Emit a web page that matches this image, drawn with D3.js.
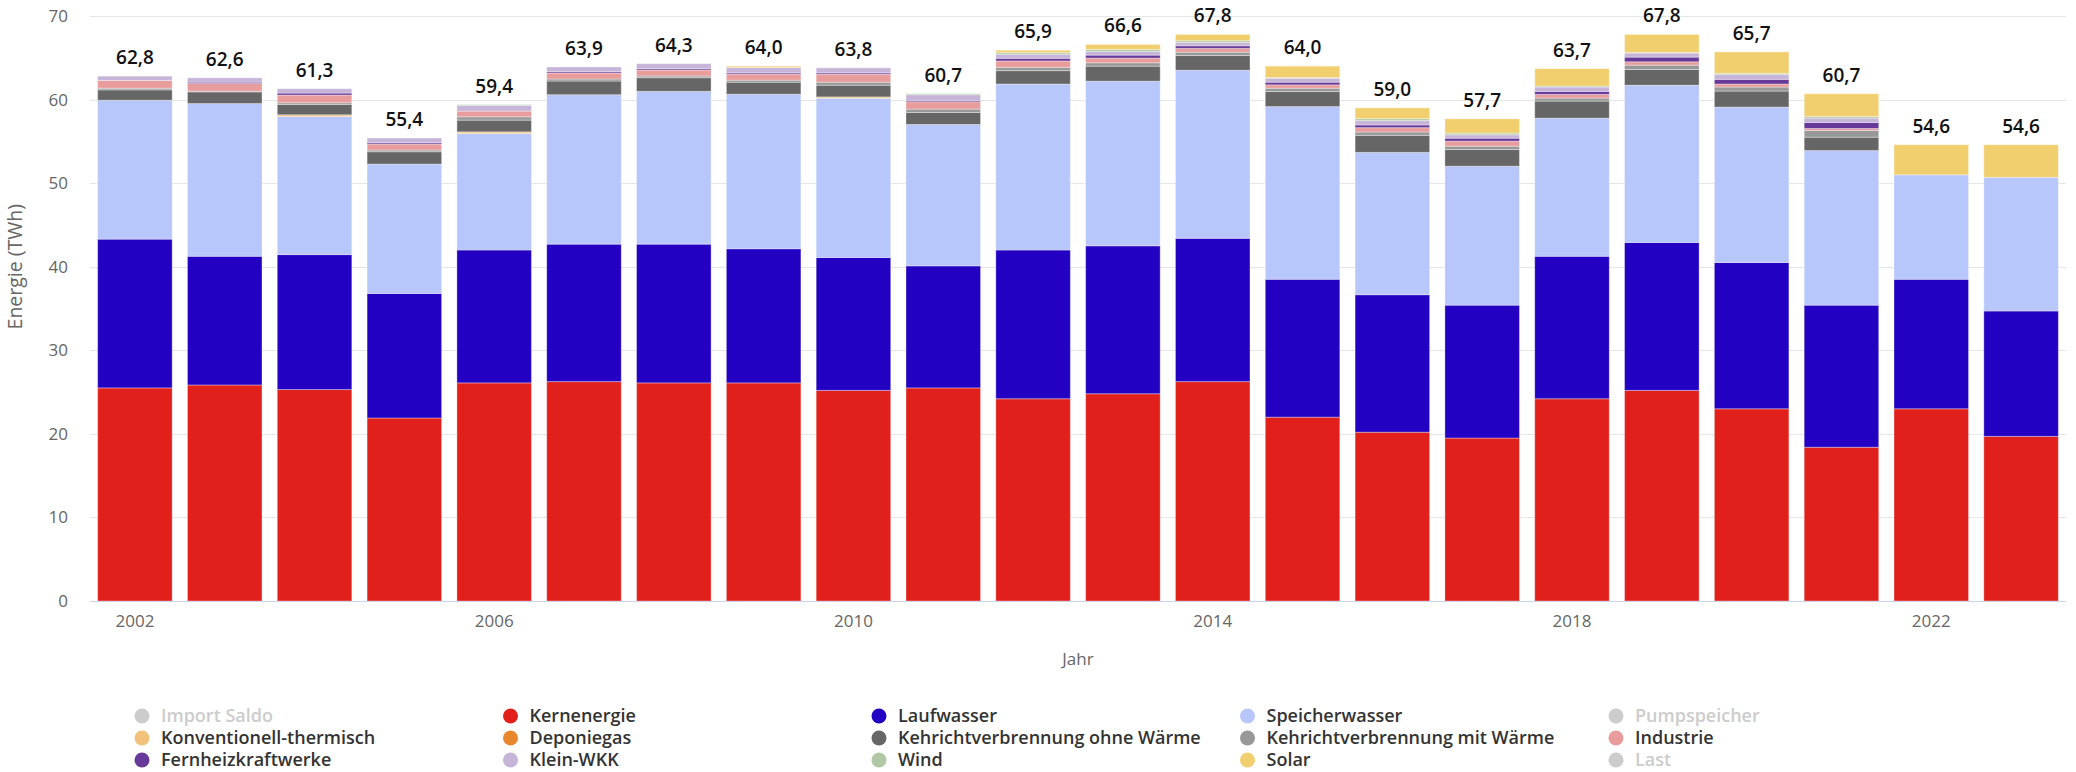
<!DOCTYPE html>
<html><head><meta charset="utf-8">
<script src="https://cdn.jsdelivr.net/npm/d3@7"></script>
<style>body{margin:0;background:#fff}svg{display:block}</style>
</head><body>
<svg id="chart" width="2076" height="772"></svg>
<script>
// ---------- data ----------
const years = [2002,2003,2004,2005,2006,2007,2008,2009,2010,2011,2012,2013,2014,2015,2016,2017,2018,2019,2020,2021,2022,2023];
const kernenergie    = [25.5,25.85,25.3,21.9,26.1,26.25,26.1,26.1,25.2,25.5,24.2,24.8,26.25,22.0,20.2,19.5,24.2,25.2,23.0,18.4,23.0,19.7];
const laufwasser     = [17.8,15.4,16.15,14.9,15.9,16.45,16.6,16.05,15.9,14.6,17.8,17.7,17.15,16.5,16.45,15.9,17.05,17.7,17.5,17.0,15.5,15.0];
const speicherwasser = [16.62,18.27,16.53,15.48,13.94,17.88,18.28,18.49,19.06,16.92,19.86,19.7,20.11,20.66,17.03,16.62,16.53,18.82,18.6,18.5,12.5,16.0];
const konventionell  = [0,0,0.2,0,0.2,0,0,0,0.16,0,0,0,0,0,0,0,0,0,0,0,0,0];
const deponiegas     = [0,0,0,0,0,0,0,0,0,0,0,0,0,0,0,0,0,0,0,0,0,0];
const kvaOhneWaerme  = [1.24,1.4,1.24,1.48,1.4,1.64,1.64,1.44,1.4,1.44,1.6,1.8,1.76,1.8,2.04,2.0,2.04,1.88,1.92,1.6,0,0];
const kvaMitWaerme   = [0.2,0.08,0.2,0.2,0.4,0.24,0.2,0.24,0.36,0.4,0.4,0.4,0.4,0.4,0.4,0.4,0.36,0.52,0.48,0.8,0,0];
const industrie      = [0.92,0.92,0.92,0.72,0.68,0.72,0.72,0.72,0.96,0.88,0.76,0.56,0.45,0.4,0.52,0.6,0.44,0.4,0.36,0.24,0,0];
const fernheiz       = [0,0.16,0.24,0.16,0,0.16,0.16,0.16,0.16,0.16,0.32,0.36,0.32,0.32,0.32,0.36,0.36,0.56,0.56,0.72,0,0];
const kleinWKK       = [0.52,0.52,0.52,0.56,0.68,0.56,0.6,0.64,0.6,0.68,0.48,0.44,0.4,0.46,0.52,0.4,0.52,0.48,0.56,0.52,0,0];
const wind           = [0,0,0,0,0.1,0,0,0,0,0.12,0.2,0.24,0.2,0.1,0.24,0.2,0.12,0.08,0.16,0.2,0,0];
const solar          = [0,0,0,0,0,0,0,0.16,0,0,0.28,0.6,0.76,1.36,1.28,1.72,2.08,2.16,2.56,2.72,3.6,3.9];

const yTicks = [0,10,20,30,40,50,60,70];
const xTickYears = [2002,2006,2010,2014,2018,2022];

// stacking order bottom -> top
const stackSeries = [
  {key:"Kernenergie", values:kernenergie, color:"#e2201b"},
  {key:"Laufwasser", values:laufwasser, color:"#2400c3"},
  {key:"Speicherwasser", values:speicherwasser, color:"#b7c6fb"},
  {key:"Konventionell-thermisch", values:konventionell, color:"#f2c27a"},
  {key:"Deponiegas", values:deponiegas, color:"#e8872b"},
  {key:"Kehrichtverbrennung ohne Wärme", values:kvaOhneWaerme, color:"#666666"},
  {key:"Kehrichtverbrennung mit Wärme", values:kvaMitWaerme, color:"#989898"},
  {key:"Industrie", values:industrie, color:"#e99c9c"},
  {key:"Fernheizkraftwerke", values:fernheiz, color:"#673a99"},
  {key:"Klein-WKK", values:kleinWKK, color:"#c6b4d9"},
  {key:"Wind", values:wind, color:"#b1c8a5"},
  {key:"Solar", values:solar, color:"#f2cf6e"}
];
const colorOf = Object.fromEntries(stackSeries.map(s=>[s.key,s.color]));

const legendItems = [
  {name:"Import Saldo", off:true}, {name:"Kernenergie"}, {name:"Laufwasser"}, {name:"Speicherwasser"}, {name:"Pumpspeicher", off:true},
  {name:"Konventionell-thermisch"}, {name:"Deponiegas"}, {name:"Kehrichtverbrennung ohne Wärme"}, {name:"Kehrichtverbrennung mit Wärme"}, {name:"Industrie"},
  {name:"Fernheizkraftwerke"}, {name:"Klein-WKK"}, {name:"Wind"}, {name:"Solar"}, {name:"Last", off:true}
];

// ---------- layout ----------
const svg = d3.select("#chart");
const FONT = "'Open Sans', 'Noto Sans', sans-serif";
const plot = {left:90, right:2066, top:16, bottom:601};

const rows = years.map((yr,i)=>{
  const o = {year:yr};
  stackSeries.forEach(s=>o[s.key]=s.values[i]);
  return o;
});
const stacked = d3.stack().keys(stackSeries.map(s=>s.key))(rows);

const x = d3.scaleBand().domain(years).range([plot.left, plot.right]).paddingInner(0.17).paddingOuter(0.085);
const y = d3.scaleLinear().domain([0,70]).range([plot.bottom, plot.top]);

// grid
svg.append("g").selectAll("line").data(yTicks.filter(t=>t>0)).join("line")
  .attr("x1",plot.left).attr("x2",plot.right)
  .attr("y1",d=>Math.round(y(d))+0.5).attr("y2",d=>Math.round(y(d))+0.5)
  .attr("stroke","#e6e6e6").attr("stroke-width",1);

// y axis
const yAxis = svg.append("g").attr("transform",`translate(${plot.left},0)`)
  .call(d3.axisLeft(y).tickValues(yTicks).tickSize(0).tickPadding(22));
yAxis.select(".domain").remove();
yAxis.selectAll("text").attr("font-family",FONT).attr("font-size",17).attr("fill","#666");

// bars
svg.append("g").selectAll("g").data(stacked).join("g")
  .attr("fill",d=>colorOf[d.key])
  .selectAll("rect").data(d=>d.filter(p=>p[1]-p[0]>0)).join("rect")
  .attr("x",d=>x(d.data.year))
  .attr("width",x.bandwidth())
  .attr("y",d=>y(d[1]))
  .attr("height",d=>y(d[0])-y(d[1]))
  .attr("stroke","#ffffff").attr("stroke-opacity",0.35).attr("stroke-width",1);

// x axis
const xAxis = svg.append("g").attr("transform",`translate(0,${plot.bottom})`)
  .call(d3.axisBottom(x).tickValues(xTickYears).tickSize(0).tickPadding(14));
xAxis.select(".domain").attr("stroke","#ccd6eb").attr("d",`M${plot.left},0.5H${plot.right}`);
xAxis.selectAll("text").attr("font-family",FONT).attr("font-size",17).attr("fill","#666");

// totals
svg.append("g").selectAll("text").data(rows).join("text")
  .attr("x",d=>x(d.year)+x.bandwidth()/2)
  .attr("y",d=>y(d3.sum(stackSeries,s=>d[s.key]))-12)
  .attr("text-anchor","middle")
  .attr("font-family",FONT).attr("font-size",19).attr("font-weight",600).attr("fill","#111")
  .text(d=>d3.sum(stackSeries,s=>d[s.key]).toFixed(1).replace(".",","));

// axis titles
svg.append("text").attr("x",(plot.left+plot.right)/2).attr("y",665)
  .attr("text-anchor","middle").attr("font-family",FONT).attr("font-size",17).attr("fill","#666").text("Jahr");
svg.append("text").attr("transform",`translate(22,${y(40)}) rotate(-90)`)
  .attr("text-anchor","middle").attr("font-family",FONT).attr("font-size",19.5).attr("fill","#666").text("Energie (TWh)");

// legend
const colX = d3.range(5).map(i=>142+i*368.5);
const rowY = [716,738,760];
const lg = svg.append("g").selectAll("g").data(legendItems).join("g")
  .attr("transform",(d,i)=>`translate(${colX[i%5]},${rowY[Math.floor(i/5)]})`);
lg.append("circle").attr("r",7.5).attr("fill",d=>d.off?"#cccccc":colorOf[d.name]);
lg.append("text").attr("x",19).attr("dy","0.35em")
  .attr("font-family",FONT).attr("font-size",18).attr("font-weight",600)
  .attr("fill",d=>d.off?"#cccccc":"#333333").text(d=>d.name);
</script>
</body></html>
